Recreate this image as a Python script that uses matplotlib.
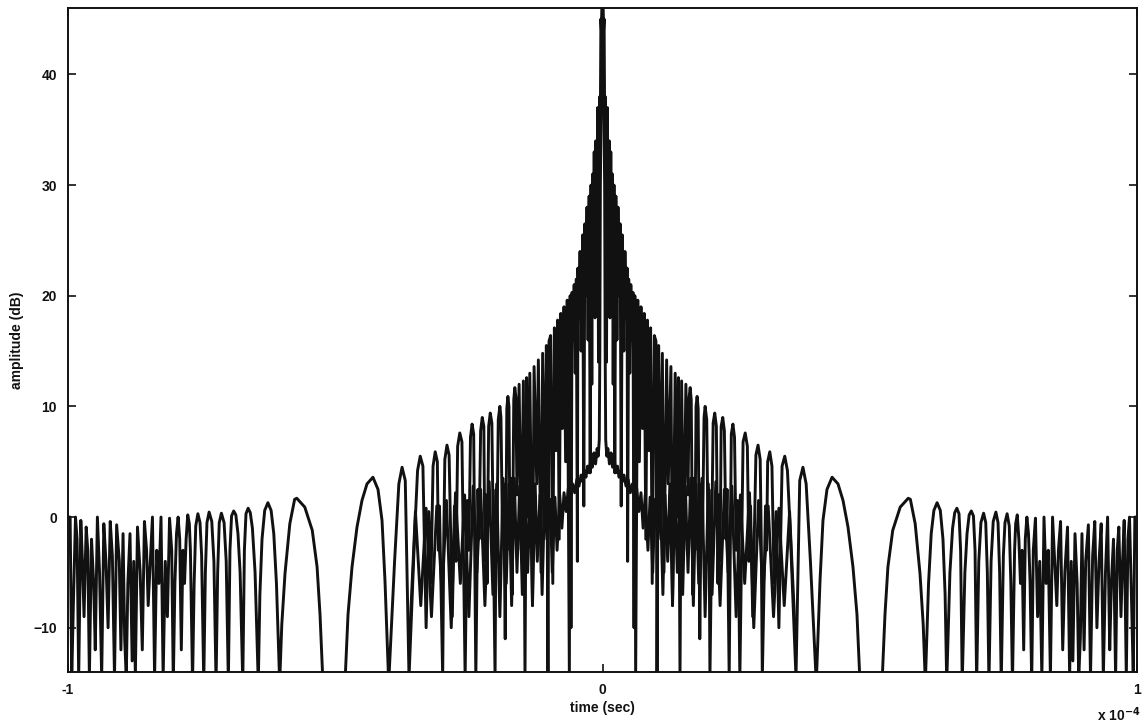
import numpy as np
import matplotlib
matplotlib.use("Agg")
import matplotlib.pyplot as plt

# ---------------------------------------------------------------
# Data (right half, t >= 0; the response is
# symmetric about t = 0 and is mirrored for t < 0).
# time in units of 1e-4 s, amplitude in dB
# ---------------------------------------------------------------
# trace A: full-range response (high comb of sidelobes near centre)
t_a = [0.000, 0.002, 0.003, 0.004, 0.005, 0.006, 0.0075, 0.009, 0.011, 0.0125,
       0.014, 0.0155, 0.017, 0.0185, 0.020, 0.0215, 0.023, 0.025, 0.027, 0.029,
       0.031, 0.033, 0.035, 0.037, 0.040, 0.042, 0.044, 0.046, 0.047, 0.049,
       0.051, 0.053, 0.055, 0.057, 0.059, 0.0605, 0.062, 0.066, 0.069, 0.072,
       0.075, 0.078, 0.081, 0.084, 0.087, 0.090, 0.093, 0.097, 0.100, 0.102,
       0.105, 0.108, 0.112, 0.115, 0.120, 0.123, 0.128, 0.131, 0.136, 0.139,
       0.142, 0.145, 0.148, 0.152, 0.156, 0.160,
       0.162, 0.164, 0.166, 0.169, 0.171, 0.173, 0.175, 0.177, 0.179, 0.182,
       0.185, 0.187, 0.190, 0.192, 0.195, 0.198, 0.199, 0.201, 0.207, 0.210,
       0.213, 0.216, 0.218, 0.220, 0.222, 0.225, 0.228, 0.231, 0.233, 0.237,
       0.241, 0.244, 0.247, 0.250, 0.253, 0.257, 0.263, 0.267, 0.271, 0.274,
       0.277, 0.281, 0.287, 0.291, 0.295, 0.297, 0.299, 0.305, 0.307, 0.309,
       0.313, 0.317, 0.321, 0.325, 0.330, 0.336, 0.341, 0.346, 0.351, 0.355,
       0.362, 0.369, 0.375, 0.381, 0.389, 0.400,
       0.407, 0.4125, 0.420, 0.4295, 0.4406, 0.450, 0.4593, 0.4686, 0.4761, 0.4818,
       0.500, 0.523, 0.5285, 0.534, 0.543, 0.557, 0.572, 0.576, 0.585, 0.594,
       0.600, 0.604,
       0.610, 0.615, 0.620, 0.626, 0.632, 0.637, 0.641, 0.644,
       0.650, 0.655, 0.659, 0.663, 0.667, 0.670, 0.673,
       0.678, 0.682, 0.686, 0.690, 0.694, 0.697, 0.700,
       0.704, 0.708, 0.713, 0.717, 0.720, 0.723,
       0.727, 0.731, 0.736, 0.740, 0.743, 0.746,
       0.750, 0.753, 0.757, 0.761, 0.764, 0.767,
       0.771, 0.773, 0.776, 0.779, 0.782, 0.785, 0.788,
       0.791, 0.794, 0.797, 0.800, 0.803,
       0.806, 0.810, 0.814, 0.818, 0.822,
       0.826, 0.830, 0.834, 0.838, 0.842, 0.846, 0.850, 0.853, 0.857, 0.861,
       0.865, 0.870, 0.874, 0.877, 0.880, 0.884, 0.888, 0.891, 0.894, 0.897,
       0.901, 0.904, 0.909, 0.913, 0.917, 0.921, 0.925, 0.929, 0.933, 0.937,
       0.941, 0.945, 0.949, 0.952, 0.956, 0.960, 0.963, 0.966, 0.970, 0.973,
       0.976, 0.980, 0.983, 0.986, 0.990, 0.993, 0.996, 1.000]
db_a = [48.0, 44.0, 45.0, 36.0, 38.0, 22.0, 14.0, 37.0, 24.0, 34.0,
        18.0, 33.0, 21.0, 31.0, 12.0, 30.0, 4.0, 29.0, 16.0, 28.0,
        20.0, 26.5, 1.0, 25.5, 15.0, 24.0, 18.0, 22.5, -4.0, 21.5,
        13.0, 21.0, 16.0, 20.3, -10.0, 20.0, -14.5, 19.6, 5.0, 19.0,
        8.0, 18.4, -2.0, 17.8, 6.0, 17.1, -6.0, 16.4, 15.9, -14.5,
        15.5, 1.0, 14.8, -5.0, 14.2, 3.0, 13.6, -8.0, 13.0, 0.0,
        12.6, -14.5, 12.3, -3.0, 12.0, 2.0,
        10.8, 11.7, 10.6, -7.0, 3.5, -3.0, 10.0, 10.9, 9.8, -11.0,
        3.0, -2.0, 9.0, 10.0, 8.8, -4.0, 2.5, -14.5, 8.5, 9.4,
        8.2, -6.0, 2.0, -4.0, 8.2, 9.0, 7.8, -2.0, 2.5, -14.5,
        7.5, 8.4, 7.2, -3.0, 1.5, -14.5, 6.8, 7.6, 6.4, -4.0,
        1.0, -9.0, 5.6, 6.5, 5.2, -2.0, -14.5, 1.0, -3.0, 5.0,
        5.9, 4.6, -6.0, 0.5, -10.0, 4.6, 5.5, 4.2, -1.0, -6.0,
        -14.5, 3.3, 4.5, 3.0, -4.0, -15.0,
        -5.7, -0.3, 2.5, 3.6, 3.0, 1.5, -0.9, -4.5, -8.8, -15.0,
        -25.0, -15.0, -8.8, -4.5, -1.2, 0.9, 1.7, 1.6, -0.6, -5.1,
        -9.7, -15.0,
        -6.0, -1.5, 0.6, 1.3, 0.6, -2.0, -7.0, -15.0,
        -5.0, -1.0, 0.4, 0.8, 0.3, -3.0, -15.0,
        -5.0, -1.5, 0.2, 0.55, 0.1, -3.0, -15.0,
        -4.0, -0.5, 0.35, -0.5, -5.0, -15.0,
        -4.0, -0.4, 0.45, -0.5, -5.0, -15.0,
        -3.5, -0.5, 0.3, -0.8, -6.0, -15.0,
        -3.0, -0.6, 0.2, -2.0, -6.0, -3.0, -12.0,
        -2.0, 0.0, -1.5, -6.0, -15.0,
        -3.0, -0.1, -9.0, -4.0, -14.5,
        0.0, -6.0, -3.0, -14.5, 0.0, -4.0, -8.0, -3.0, -0.4, -12.0,
        -5.0, -0.9, -14.5, -4.0, -13.0, -1.5, -6.0, -14.5, -11.0, -1.5,
        -12.0, -4.0, -0.7, -14.5, -3.5, -0.4, -10.0, -4.0, -0.6, -14.5,
        -5.0, 0.0, -12.0, -6.0, -2.0, -14.5, -3.0, -0.9, -9.0, -4.0,
        -0.3, -14.5, -2.0, 0.0, -8.0, -14.5, 0.0, 0.0]

# trace B: low-sidelobe response near the centre
t_b = [0.000, 0.002, 0.004, 0.005, 0.006, 0.008, 0.010, 0.013, 0.016, 0.019,
       0.022, 0.025, 0.028, 0.031, 0.034, 0.037, 0.040, 0.044, 0.048, 0.052,
       0.056, 0.060, 0.064, 0.068, 0.072, 0.076, 0.080, 0.085, 0.089, 0.094,
       0.098, 0.104, 0.108, 0.113, 0.117, 0.122, 0.126, 0.131, 0.135, 0.140,
       0.145, 0.150, 0.155, 0.160, 0.165, 0.170, 0.175, 0.180, 0.186, 0.192,
       0.198, 0.205, 0.212, 0.220, 0.228, 0.235, 0.242, 0.250, 0.258, 0.266,
       0.275, 0.283, 0.292, 0.300, 0.310, 0.320, 0.330, 0.340, 0.350, 0.360]
db_b = [48.0, 40.0, 30.0, 15.0, 7.0, 5.5, 6.2, 4.8, 5.8, 4.5,
        5.2, 4.0, 4.6, 3.6, 4.2, 3.2, 3.8, 2.8, 3.4, 2.2,
        3.0, 1.5, 2.6, 0.5, 2.2, -1.0, 2.0, -3.0, 1.8, -5.0,
        1.6, -2.0, 2.5, -7.0, 2.0, -4.0, 3.0, -8.0, 2.5, -5.0,
        3.2, -7.0, 2.8, -5.0, 3.5, -8.0, 3.0, -6.0, 3.5, -9.0,
        3.0, -7.0, 3.2, -8.0, 2.5, -5.0, 2.8, -9.0, 2.0, -6.0,
        2.2, -10.0, 1.5, -7.0, 1.0, -9.0, 0.8, -8.0, 0.5, -10.0]

x_ticks = [-1, 0, 1]
x_tick_labels = ["-1", "0", "1"]
y_ticks = [-10, 0, 10, 20, 30, 40]


def mirror(t, v):
    t = np.asarray(t, float)
    v = np.asarray(v, float)
    return np.concatenate([-t[:0:-1], t]), np.concatenate([v[:0:-1], v])


ta, ya = mirror(t_a, db_a)
tb, yb = mirror(t_b, db_b)

W, H = 1144, 724
fig = plt.figure(figsize=(W / 100, H / 100), dpi=100)
L, R, T, B = 68, 1137, 8, 672
ax = fig.add_axes([L / W, 1 - B / H, (R - L) / W, (B - T) / H])

col = "#111111"
ax.plot(tb, yb, color=col, lw=2.1, solid_joinstyle="round")
ax.plot(ta, ya, color=col, lw=2.1, solid_joinstyle="round")

ax.set_xlim(-1, 1)
ax.set_ylim(-14, 46)
ax.set_xticks(x_ticks)
ax.set_xticklabels(x_tick_labels)
ax.set_yticks(y_ticks)

font = "Liberation Sans"
fs = 10
for sp in ax.spines.values():
    sp.set_linewidth(1.4)
    sp.set_color(col)
ax.tick_params(direction="in", length=6, width=1.2, top=True, right=True,
               colors=col, labelsize=fs, pad=8)
for lab in ax.get_xticklabels() + ax.get_yticklabels():
    lab.set_fontfamily(font)
    lab.set_fontweight("bold")

ax.set_xlabel("time (sec)", fontfamily=font, fontweight="bold", fontsize=fs,
              labelpad=3, color=col)
ax.set_ylabel("amplitude (dB)", fontfamily=font, fontweight="bold", fontsize=fs,
              labelpad=7, color=col)

fig.text(1097 / W, 1 - 721 / H, r"x 10$^{\mathbf{-4}}$", fontfamily=font,
         fontweight="bold", fontsize=fs, color=col, ha="left", va="baseline")

fig.savefig("out.png", dpi=100)
